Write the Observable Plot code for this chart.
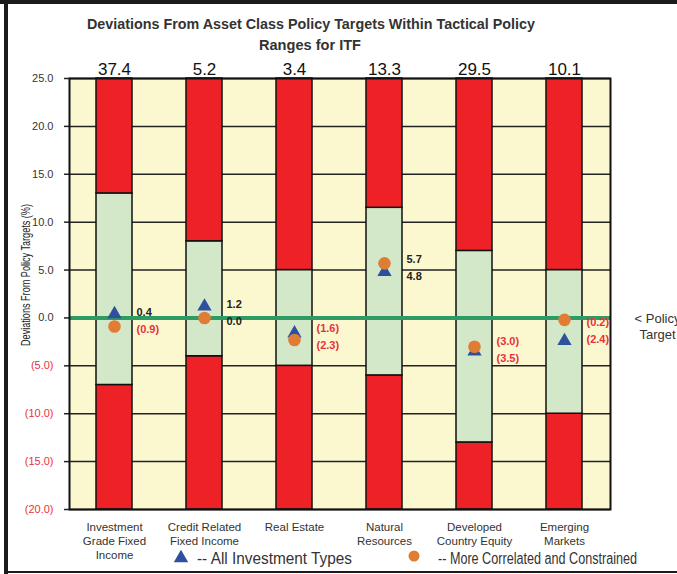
<!DOCTYPE html>
<html>
<head>
<meta charset="utf-8">
<script src="https://cdn.jsdelivr.net/npm/d3@7"></script>
<script src="https://cdn.jsdelivr.net/npm/@observablehq/plot@0.6"></script>
<style>
  html, body { margin: 0; padding: 0; background: #fff; }
  #wrap { position: relative; width: 677px; height: 574px; overflow: hidden; background: #fff;
          font-family: "Liberation Sans", Arial, sans-serif; }
  .bl { position: absolute; left: 4px; top: 0; width: 4px; height: 574px; background: #1a1a1a; }
  .bt { position: absolute; left: 0; top: 0; width: 677px; height: 4px; background: #1a1a1a; }
  .bb { position: absolute; left: 4px; top: 571px; width: 673px; height: 2px; background: #1a1a1a; }
  #chart, #overlay { position: absolute; left: 0; top: 0; }
</style>
</head>
<body>
<div id="wrap">
  <div id="chart"></div>
  <svg id="overlay" width="677" height="574"></svg>
  <div class="bl"></div><div class="bt"></div><div class="bb"></div>
</div>
<script>
const categories = ["Investment\nGrade Fixed\nIncome", "Credit Related\nFixed Income", "Real Estate", "Natural\nResources", "Developed\nCountry Equity", "Emerging\nMarkets"];
const totals = [37.4, 5.2, 3.4, 13.3, 29.5, 10.1];
const rangeLow = [-7, -4, -5, -6, -13, -10];
const rangeHigh = [13, 8, 5, 11.5, 7, 5];
const allTypes = [0.4, 1.2, -1.6, 4.8, -3.5, -2.4];
const correlated = [-0.9, 0.0, -2.3, 5.7, -3.0, -0.2];
const yTicks = [-20, -15, -10, -5, 0, 5, 10, 15, 20, 25];
const yMin = -20, yMax = 25;
const titleLines = ["Deviations From Asset Class Policy Targets Within Tactical Policy", "Ranges for  ITF"];
const yLabel = "Deviations From Policy Targets (%)";
const legendLabels = ["--  All Investment Types", "-- More Correlated and Constrained"];
const sideLabel = "< Policy\nTarget";

const RED = "#ee2127", GREEN = "#d3e8c9", BG = "#fbf8d0", ZERO = "#2e9a64";
const TRI = "#2f4f9f", DOT = "#e07d35", NEG = "#e8323a";
const fmt = v => v < 0 ? `(${(-v).toFixed(1)})` : v.toFixed(1);

const rows = categories.map((c, i) => ({
  cat: c, total: totals[i], low: rangeLow[i], high: rangeHigh[i],
  all: allTypes[i], cor: correlated[i]
}));
const labels = [];
rows.forEach(r => {
  const upperVal = r.all >= r.cor ? r.all : r.cor;
  const lowerVal = r.all >= r.cor ? r.cor : r.all;
  const mid = (r.all + r.cor) / 2;
  labels.push({cat: r.cat, y: mid, v: upperVal, pos: "up"});
  labels.push({cat: r.cat, y: mid, v: lowerVal, pos: "down"});
});

const arial = "'Liberation Sans', Arial, sans-serif";

const chart = Plot.plot({
  width: 677, height: 574,
  marginLeft: 69, marginRight: 67, marginTop: 78, marginBottom: 65,
  style: {fontFamily: arial, background: "transparent"},
  x: {type: "band", domain: categories, paddingInner: 0.6, paddingOuter: 0.3, axis: null},
  y: {domain: [yMin, yMax], axis: null},
  marks: [
    Plot.frame({fill: BG}),
    Plot.ruleY(yTicks, {stroke: "#222", strokeWidth: 1.5}),
    Plot.barY(rows, {x: "cat", y1: yMin, y2: "low", fill: RED, stroke: "#111", strokeWidth: 1.5, inset: 0}),
    Plot.barY(rows, {x: "cat", y1: "low", y2: "high", fill: GREEN, stroke: "#111", strokeWidth: 1.5, inset: 0}),
    Plot.barY(rows, {x: "cat", y1: "high", y2: yMax, fill: RED, stroke: "#111", strokeWidth: 1.5, inset: 0}),
    Plot.ruleY([0], {stroke: ZERO, strokeWidth: 4}),
    Plot.dot(rows, {x: "cat", y: "all", symbol: "triangle", r: 5.3, fill: TRI}),
    Plot.dot(rows, {x: "cat", y: "cor", symbol: "circle", r: 6.3, fill: DOT}),
    Plot.text(labels.filter(d => d.pos === "up"), {x: "cat", y: "y", text: d => fmt(d.v), dx: 22, dy: -8,
      textAnchor: "start", fontWeight: "bold", fontSize: 11, fill: d => d.v < 0 ? NEG : "#222"}),
    Plot.text(labels.filter(d => d.pos === "down"), {x: "cat", y: "y", text: d => fmt(d.v), dx: 22, dy: 9,
      textAnchor: "start", fontWeight: "bold", fontSize: 11, fill: d => d.v < 0 ? NEG : "#222"}),
    Plot.text(rows, {x: "cat", text: d => d.total.toFixed(1), frameAnchor: "top", lineAnchor: "bottom",
      dy: -4, fontSize: 17, fill: "#111"}),
    Plot.axisY(yTicks.filter(v => v >= 0), {tickFormat: fmt, tickSize: 5, tickPadding: 11, fontSize: 11,
      fill: "#333", stroke: "#222", strokeWidth: 1.5, label: null}),
    Plot.axisY(yTicks.filter(v => v < 0), {tickFormat: fmt, tickSize: 5, tickPadding: 11, fontSize: 11,
      fill: NEG, stroke: "#222", strokeWidth: 1.5, label: null}),
    Plot.text(categories, {x: d => d, frameAnchor: "bottom", lineAnchor: "top", dy: 12, text: d => d,
      fontSize: 11.5, lineHeight: 1.2, fill: "#333"}),
    Plot.text([sideLabel], {frameAnchor: "right", y: 0, text: d => d, dx: 47, dy: 8, fontSize: 13,
      lineHeight: 1.25, fill: "#333", textAnchor: "middle"}),
    Plot.frame({stroke: "#111", strokeWidth: 2})
  ]
});
document.getElementById("chart").appendChild(chart);

// overlay texts (condensed via textLength)
const ov = d3.select("#overlay").style("font-family", arial);
ov.append("text").attr("x", 311).attr("y", 29).attr("text-anchor", "middle")
  .attr("font-size", 15).attr("font-weight", "bold").attr("fill", "#333")
  .attr("textLength", 448).attr("lengthAdjust", "spacingAndGlyphs").text(titleLines[0]);
ov.append("text").attr("x", 310).attr("y", 50).attr("text-anchor", "middle")
  .attr("font-size", 15).attr("font-weight", "bold").attr("fill", "#333")
  .attr("textLength", 102).attr("lengthAdjust", "spacingAndGlyphs").text(titleLines[1]);
ov.append("text").attr("transform", "translate(30,275) rotate(-90)").attr("text-anchor", "middle")
  .attr("font-size", 12.5).attr("fill", "#222")
  .attr("textLength", 142).attr("lengthAdjust", "spacingAndGlyphs").text(yLabel);
// legend
ov.append("path").attr("d", d3.symbol(d3.symbolTriangle, 90)()).attr("transform", "translate(181,558)").attr("fill", TRI);
ov.append("text").attr("x", 197).attr("y", 564).attr("font-size", 16).attr("fill", "#333")
  .attr("textLength", 155).attr("lengthAdjust", "spacingAndGlyphs").text(legendLabels[0]);
ov.append("circle").attr("cx", 414).attr("cy", 556).attr("r", 5.5).attr("fill", DOT);
ov.append("text").attr("x", 438).attr("y", 564).attr("font-size", 16).attr("fill", "#333")
  .attr("textLength", 199).attr("lengthAdjust", "spacingAndGlyphs").text(legendLabels[1]);
</script>
</body>
</html>
